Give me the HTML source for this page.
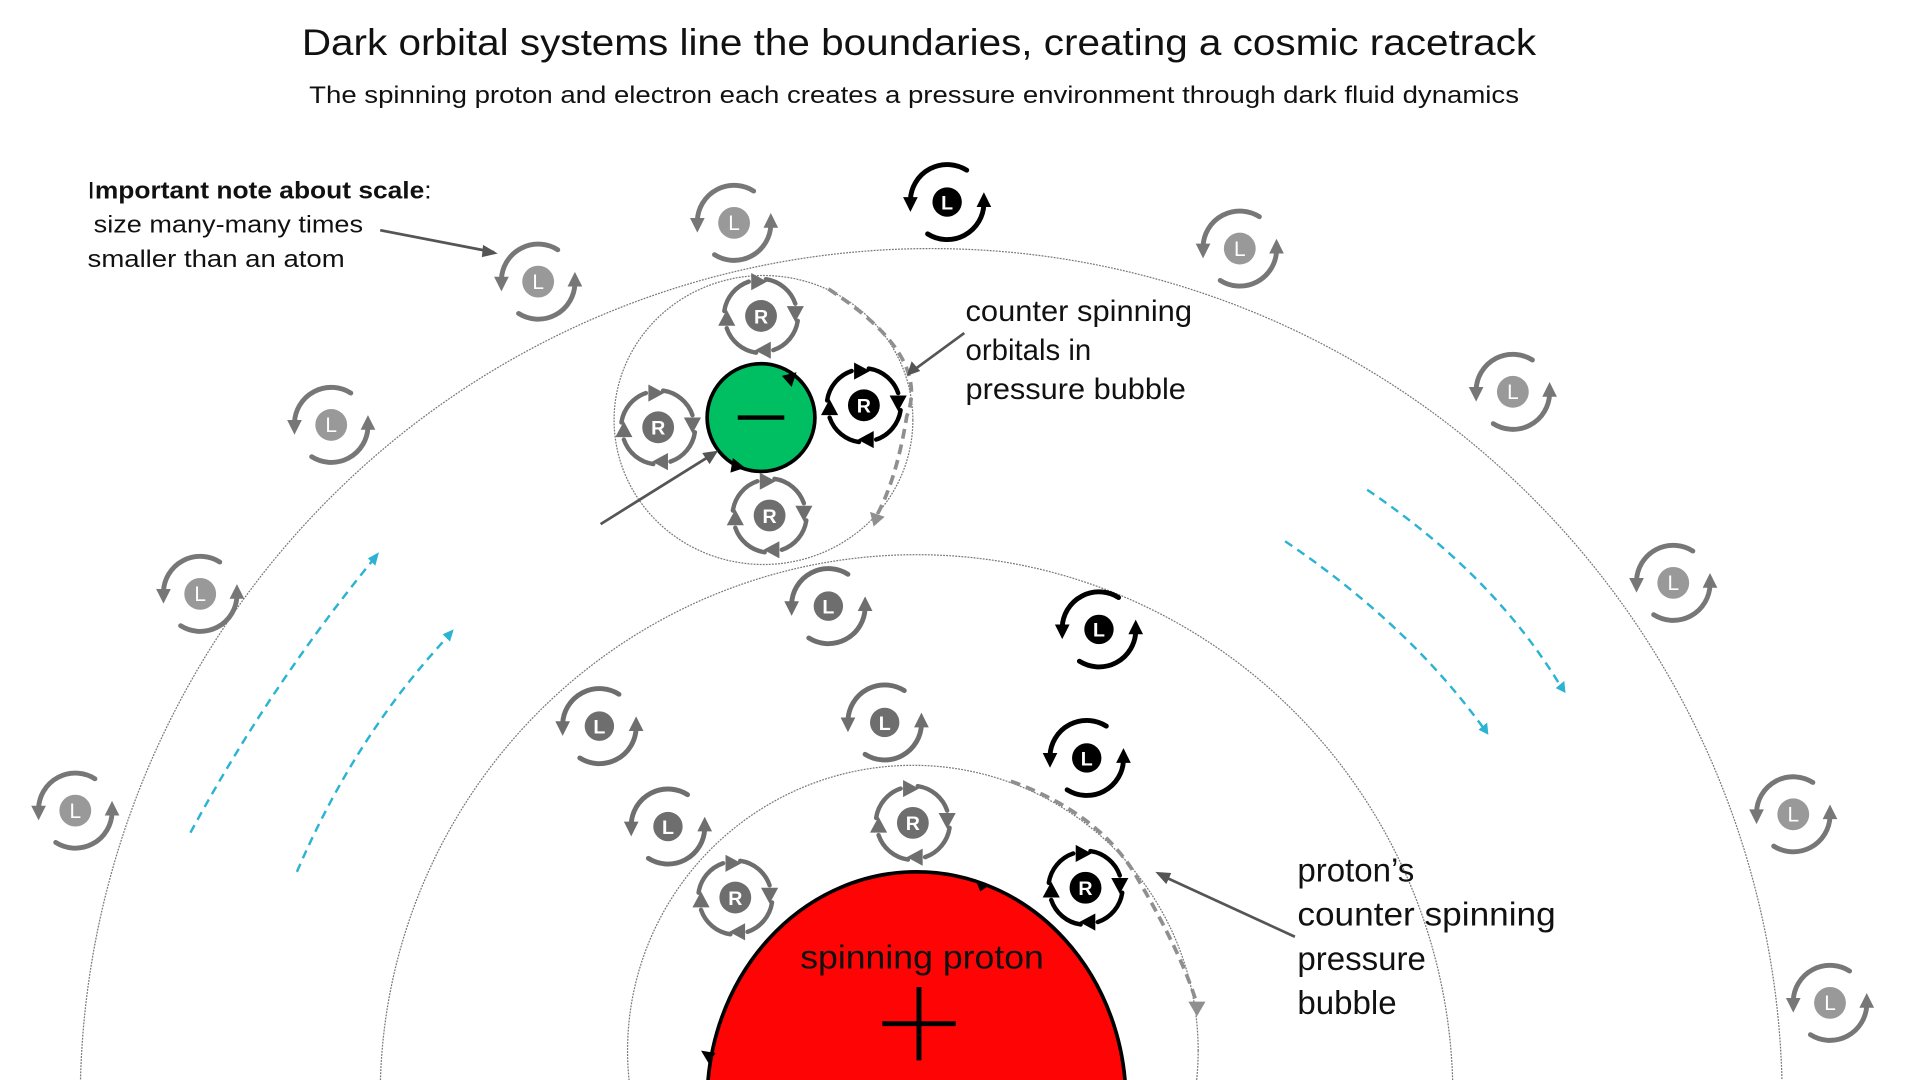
<!DOCTYPE html>
<html><head><meta charset="utf-8"><style>
html,body{margin:0;padding:0;background:#fff;overflow:hidden;width:1920px;height:1080px;}
svg{display:block;}
text{font-family:"Liberation Sans",sans-serif;}
</style></head><body>
<svg width="1920" height="1080" viewBox="0 0 1567 882" xmlns="http://www.w3.org/2000/svg">
<defs>
<g id="ringL">
<path d="M16,-26 A30 30 0 0 0 -30,-2" fill="none" stroke-width="4" stroke-linecap="round"/>
<polygon points="-36,-4 -24,-4 -30,8" stroke="none"/>
<path d="M-16,26 A30 30 0 0 0 30,2" fill="none" stroke-width="4" stroke-linecap="round"/>
<polygon points="24,4 36,4 30,-8" stroke="none"/>
</g>
<g id="arcR">
<path d="M-30,-4 A30 30 0 0 1 -10,-28" fill="none" stroke-width="3.6" stroke-linecap="round"/>
<polygon points="-8,-35 5,-28 -8,-21" stroke="none"/>
</g>
<g id="ringR">
<use href="#arcR"/>
<use href="#arcR" transform="rotate(90)"/>
<use href="#arcR" transform="rotate(180)"/>
<use href="#arcR" transform="rotate(270)"/>
</g>
</defs>

<text x="246" y="45" font-size="30" textLength="1008" lengthAdjust="spacingAndGlyphs" fill="#111">Dark orbital systems line the boundaries, creating a cosmic racetrack</text>
<text x="252" y="84" font-size="19.5" textLength="988" lengthAdjust="spacingAndGlyphs" fill="#111">The spinning proton and electron each creates a pressure environment through dark fluid dynamics</text>

<g fill="none" stroke="#777" stroke-width="1" stroke-dasharray="1.5 1">
<ellipse cx="760" cy="900" rx="695" ry="697"/>
<ellipse cx="748" cy="895" rx="438" ry="442"/>
<ellipse cx="745" cy="858" rx="233" ry="233"/>
<ellipse cx="623" cy="343" rx="122" ry="118"/>
</g>

<ellipse cx="748" cy="900" rx="171" ry="188" fill="#fe0404" stroke="#000" stroke-width="3"/>
<polygon points="796,718 806,724 800,728" fill="#000"/>
<polygon points="572,858 584,860 578,868" fill="#000"/>
<text x="653" y="791" font-size="27" textLength="199" lengthAdjust="spacingAndGlyphs" fill="#111">spinning proton</text>
<path d="M720,836 H780 M750,806 V866" stroke="#000" stroke-width="4"/>

<circle cx="621" cy="341" r="44" fill="#00bf63" stroke="#000" stroke-width="3"/>
<path d="M602,341 H640" stroke="#000" stroke-width="3.5"/>
<polygon points="638,307 650,304 646,316" fill="#000"/>
<polygon points="598,374 608,382 596,386" fill="#000"/>

<g fill="none" stroke="#8f8f8f" stroke-width="3" stroke-dasharray="8 5">
<path d="M676,236 Q760,290 740,340 Q732,390 716,420"/>
<path d="M825,638 Q900,665 930,720 Q965,780 977,820"/>
</g>
<polygon points="710,418 722,422 713,430" fill="#8f8f8f"/>
<polygon points="970,818 984,818 977,830" fill="#8f8f8f"/>

<g fill="none" stroke="#2bb3d3" stroke-width="2" stroke-dasharray="7 5">
<path d="M155,680 Q220,560 306,455"/>
<path d="M242,712 Q290,600 367,518"/>
<path d="M1116,400 Q1220,470 1275,562"/>
<path d="M1049,442 Q1150,510 1212,596"/>
</g>
<g fill="#2bb3d3">
<polygon points="309,451 300,456 306,462"/>
<polygon points="370,514 361,518 367,524"/>
<polygon points="1278,566 1270,562 1277,556"/>
<polygon points="1215,600 1207,596 1214,590"/>
</g>

<g stroke="#555" stroke-width="2.2" fill="none">
<path d="M310,188 L403,206"/>
<path d="M787,272 L742,305"/>
<path d="M490,428 L583,370"/>
<path d="M1057,765 L946,714"/>
</g>
<g fill="#555">
<polygon points="406,207 394,200 393,210"/>
<polygon points="740,307 744,295 751,303"/>
<polygon points="586,368 573,370 579,379"/>
<polygon points="943,712 952,722 956,713"/>
</g>

<text x="71" y="162" font-size="20" textLength="281" lengthAdjust="spacingAndGlyphs" fill="#111">I<tspan font-weight="bold">mportant note about scale</tspan>:</text>
<text x="76" y="190" font-size="20" textLength="220" lengthAdjust="spacingAndGlyphs" fill="#111">size many-many times</text>
<text x="71" y="218" font-size="20" textLength="210" lengthAdjust="spacingAndGlyphs" fill="#111">smaller than an atom</text>
<text x="788" y="262" font-size="24" textLength="185" lengthAdjust="spacingAndGlyphs" fill="#111">counter spinning</text>
<text x="788" y="294" font-size="24" fill="#111">orbitals in</text>
<text x="788" y="326" font-size="24" textLength="180" lengthAdjust="spacingAndGlyphs" fill="#111">pressure bubble</text>
<text x="1059" y="720" font-size="27" fill="#111">proton’s</text>
<text x="1059" y="756" font-size="27" textLength="211" lengthAdjust="spacingAndGlyphs" fill="#111">counter spinning</text>
<text x="1059" y="792" font-size="27" fill="#111">pressure</text>
<text x="1059" y="828" font-size="27" fill="#111">bubble</text>

<g fill="#777" stroke="#777">
<use href="#ringL" x="599" y="182"/><use href="#ringL" x="439" y="230"/><use href="#ringL" x="270" y="347"/>
<use href="#ringL" x="163" y="485"/><use href="#ringL" x="61" y="662"/><use href="#ringL" x="1012" y="203"/>
<use href="#ringL" x="1235" y="320"/><use href="#ringL" x="1366" y="476"/><use href="#ringL" x="1464" y="665"/>
<use href="#ringL" x="1494" y="819"/>
</g>
<g fill="#999">
<circle cx="599" cy="182" r="13"/><circle cx="439" cy="230" r="13"/><circle cx="270" cy="347" r="13"/>
<circle cx="163" cy="485" r="13"/><circle cx="61" cy="662" r="13"/><circle cx="1012" cy="203" r="13"/>
<circle cx="1235" cy="320" r="13"/><circle cx="1366" cy="476" r="13"/><circle cx="1464" cy="665" r="13"/>
<circle cx="1494" cy="819" r="13"/>
</g>
<g fill="#fff" font-size="17" text-anchor="middle">
<text x="599" y="188">L</text><text x="439" y="236">L</text><text x="270" y="353">L</text>
<text x="163" y="491">L</text><text x="61" y="668">L</text><text x="1012" y="209">L</text>
<text x="1235" y="326">L</text><text x="1366" y="482">L</text><text x="1464" y="671">L</text>
<text x="1494" y="825">L</text>
</g>

<g fill="#6e6e6e" stroke="#6e6e6e">
<use href="#ringL" x="676" y="495"/><use href="#ringL" x="489" y="593"/><use href="#ringL" x="722" y="590"/><use href="#ringL" x="545" y="675"/>
<circle cx="676" cy="495" r="12" stroke="none"/><circle cx="489" cy="593" r="12" stroke="none"/><circle cx="722" cy="590" r="12" stroke="none"/><circle cx="545" cy="675" r="12" stroke="none"/>
</g>
<g fill="#fff" font-size="16" font-weight="bold" text-anchor="middle">
<text x="676" y="501">L</text><text x="489" y="599">L</text><text x="722" y="596">L</text><text x="545" y="681">L</text>
</g>

<g fill="#000" stroke="#000">
<use href="#ringL" x="773" y="165"/><use href="#ringL" x="897" y="514"/><use href="#ringL" x="887" y="619"/>
<circle cx="773" cy="165" r="12" stroke="none"/><circle cx="897" cy="514" r="12" stroke="none"/><circle cx="887" cy="619" r="12" stroke="none"/>
</g>
<g fill="#fff" font-size="16" font-weight="bold" text-anchor="middle">
<text x="773" y="171">L</text><text x="897" y="520">L</text><text x="887" y="625">L</text>
</g>

<g fill="#6e6e6e" stroke="#6e6e6e">
<g transform="translate(621,258)"><use href="#ringR"/></g>
<g transform="translate(537,349)"><use href="#ringR"/></g>
<g transform="translate(628,421)"><use href="#ringR"/></g>
<g transform="translate(745,672)"><use href="#ringR"/></g>
<g transform="translate(600,733)"><use href="#ringR"/></g>
<circle cx="621" cy="258" r="13" stroke="none"/><circle cx="537" cy="349" r="13" stroke="none"/><circle cx="628" cy="421" r="13" stroke="none"/>
<circle cx="745" cy="672" r="13" stroke="none"/><circle cx="600" cy="733" r="13" stroke="none"/>
</g>
<g fill="#fff" font-size="16" font-weight="bold" text-anchor="middle">
<text x="621" y="264">R</text><text x="537" y="355">R</text><text x="628" y="427">R</text>
<text x="745" y="678">R</text><text x="600" y="739">R</text>
</g>
<g fill="#000" stroke="#000">
<g transform="translate(705,331)"><use href="#ringR"/></g>
<g transform="translate(886,725)"><use href="#ringR"/></g>
<circle cx="705" cy="331" r="13" stroke="none"/><circle cx="886" cy="725" r="13" stroke="none"/>
</g>
<g fill="#fff" font-size="16" font-weight="bold" text-anchor="middle">
<text x="705" y="337">R</text><text x="886" y="731">R</text>
</g>
</svg>
</body></html>
